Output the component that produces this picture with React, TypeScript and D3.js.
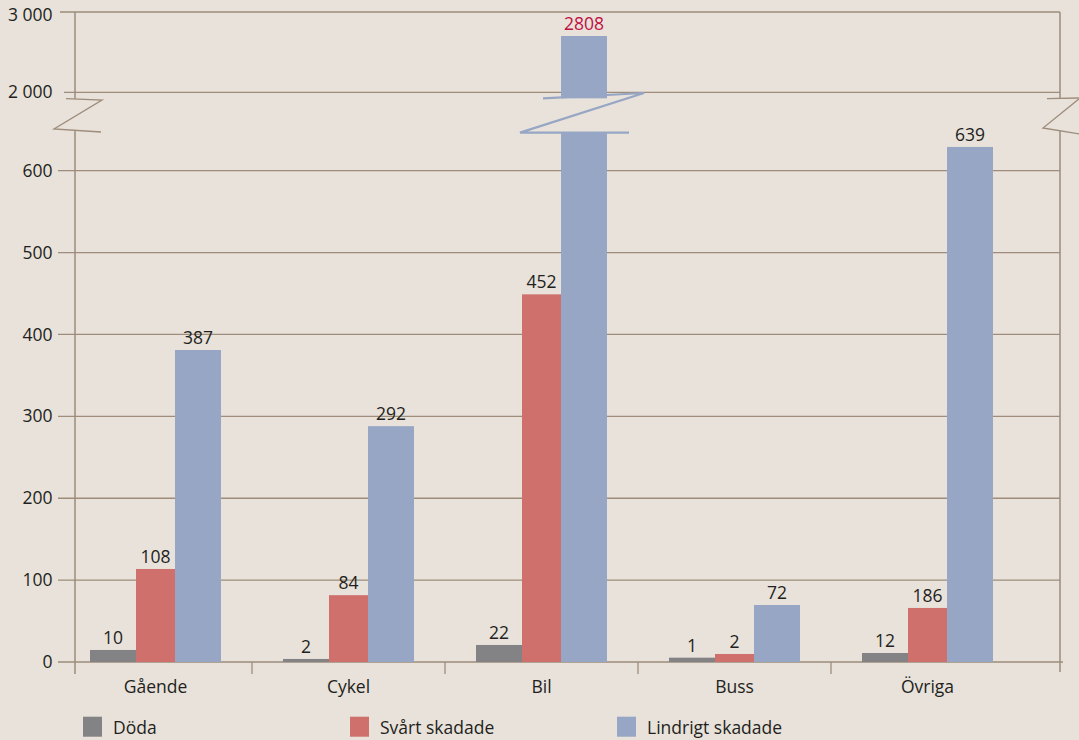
import React from 'react';
import * as d3 from 'd3';

const categories = ['Gående', 'Cykel', 'Bil', 'Buss', 'Övriga'];
const seriesNames = ['Döda', 'Svårt skadade', 'Lindrigt skadade'];
// printed values (data labels)
const dodaLabels = [10, 2, 22, 1, 12];
const svartLabels = [108, 84, 452, 2, 186];
const lindrigtLabels = [387, 292, 2808, 72, 639];
// bar heights as drawn in the picture
const dodaBars = [14.7, 3.7, 20.8, 5.3, 11];
const svartBars = [113.6, 81.6, 449, 9.8, 66];
const lindrigtBars = [381, 288, 2701, 69.6, 629];
const lowerTicks = [0, 100, 200, 300, 400, 500, 600];
const upperTicks = [2000, 3000];
const breakLow = 647;
const breakHigh = 1925;

const colors = ['#838385', '#D0706C', '#96A6C4'];
const highlightColor = '#C0103F';
const gridColor = '#9E8D7B';
const bg = '#E8E2DB';
const textColor = '#231F20';
const font = '"Open Sans", "Noto Sans", sans-serif';
const fontSize = 17.5;
const fontWeight = 500;

const W = 1079;
const H = 740;

const fmt = d3.formatLocale({ decimal: ',', thousands: ' ', grouping: [3], currency: ['', ''] }).format(',');

export default function App() {
  const yLow = d3.scaleLinear().domain([0, 600]).range([662, 170.7]);
  const yHigh = d3.scaleLinear().domain([2000, 3000]).range([92.3, 12]);
  const step = 193;
  const x = d3
    .scaleBand<string>()
    .domain(categories)
    .range([59, 59 + 5 * step])
    .paddingInner(62 / step)
    .paddingOuter(31 / step);
  const offsets = [0, 46, 85];
  const widths = [46, 39, 46];
  const barSets = [dodaBars, svartBars, lindrigtBars];
  const labelSets = [dodaLabels, svartLabels, lindrigtLabels];

  const axisL = 75;
  const axisR = 1060;
  const y0 = yLow(0);
  const gridLeft = 58;

  const valueY = (v: number) => (v > breakLow ? yHigh(v) : yLow(v));

  const bars: React.ReactNode[] = [];
  const labels: React.ReactNode[] = [];
  const breaks: React.ReactNode[] = [];

  categories.forEach((c, i) => {
    const gx = x(c)!;
    barSets.forEach((set, s) => {
      const v = set[i];
      const bx = gx + offsets[s];
      const bw = widths[s];
      const top = valueY(v);
      if (v > breakLow) {
        const lowTop = yLow(breakLow);
        const highBottom = yHigh(breakHigh);
        bars.push(<rect key={`b${i}-${s}-l`} x={bx} y={lowTop} width={bw} height={y0 - lowTop} fill={colors[s]} />);
        bars.push(<rect key={`b${i}-${s}-h`} x={bx} y={top} width={bw} height={highBottom - top} fill={colors[s]} />);
        const yTopLine = yHigh(2000) + 0.7;
        breaks.push(
          <polyline
            key={`br${i}-${s}`}
            points={`${bx - 18},${highBottom} ${bx + bw + 37},${yTopLine} ${bx - 41},${lowTop + 0.4} ${bx + bw + 22},${lowTop + 0.4}`}
            fill="none"
            stroke={colors[s]}
            strokeWidth={2.2}
          />
        );
      } else {
        bars.push(<rect key={`b${i}-${s}`} x={bx} y={top} width={bw} height={y0 - top} fill={colors[s]} />);
      }
      const lab = labelSets[s][i];
      labels.push(
        <text
          key={`t${i}-${s}`}
          x={bx + bw / 2}
          y={top - 6}
          textAnchor="middle"
          fontSize={fontSize}
          fontWeight={fontWeight}
          fontFamily={font}
          fill={lab > 1000 ? highlightColor : textColor}
        >
          {lab}
        </text>
      );
    });
  });

  const separators = categories.slice(1).map((c) => x(c)! - (x.step() - x.bandwidth()) / 2);
  const breakTop = 98.7;
  const breakBottom = 131;

  return (
    <svg width={W} height={H} style={{ position: 'absolute', left: 0, top: 0, display: 'block' }}>
      <rect x={0} y={0} width={W} height={H} fill={bg} />
      {lowerTicks.map((t) => (
        <line key={`gl${t}`} x1={gridLeft} x2={t === 0 ? axisR + 3 : axisR} y1={yLow(t)} y2={yLow(t)} stroke={gridColor} strokeWidth={1.3} />
      ))}
      {upperTicks.map((t, k) => (
        <line key={`gu${t}`} x1={k === 0 ? 64 : 60} x2={axisR} y1={yHigh(t)} y2={yHigh(t)} stroke={gridColor} strokeWidth={1.3} />
      ))}
      <line x1={axisL} x2={axisL} y1={yHigh(3000)} y2={breakTop} stroke={gridColor} strokeWidth={1.5} />
      <line x1={axisL} x2={axisL} y1={breakBottom} y2={674} stroke={gridColor} strokeWidth={1.5} />
      <line x1={axisR} x2={axisR} y1={yHigh(3000)} y2={breakTop} stroke={gridColor} strokeWidth={1.5} />
      <line x1={axisR} x2={axisR} y1={breakBottom} y2={672} stroke={gridColor} strokeWidth={1.5} />
      {separators.map((sx, k) => (
        <line key={`sep${k}`} x1={sx} x2={sx} y1={y0} y2={674} stroke={gridColor} strokeWidth={1.3} />
      ))}
      <polyline points={`66,98.7 102,100 54,129 101,132`} fill="none" stroke={gridColor} strokeWidth={1.3} />
      <polyline points={`1047,98.7 1080,98 1043,128 1080,134`} fill="none" stroke={gridColor} strokeWidth={1.3} />
      {bars}
      {breaks}
      {labels}
      {lowerTicks.map((t) => (
        <text key={`yl${t}`} x={52.5} y={yLow(t)} dy="0.35em" textAnchor="end" fontSize={fontSize} fontWeight={fontWeight} fontFamily={font} fill={textColor}>
          {fmt(t)}
        </text>
      ))}
      {upperTicks.map((t) => (
        <text key={`yu${t}`} x={52.5} y={Math.max(yHigh(t), 14.7)} dy="0.35em" textAnchor="end" fontSize={fontSize} fontWeight={fontWeight} fontFamily={font} fill={textColor}>
          {fmt(t)}
        </text>
      ))}
      {categories.map((c) => (
        <text key={`c${c}`} x={x(c)! + x.bandwidth() / 2} y={692.5} textAnchor="middle" fontSize={fontSize} fontWeight={fontWeight} fontFamily={font} fill={textColor}>
          {c}
        </text>
      ))}
      {seriesNames.map((n, s) => {
        const lx = 83 + s * 267;
        return (
          <g key={`lg${s}`}>
            <rect x={lx} y={716.7} width={19} height={20} fill={colors[s]} />
            <text x={lx + 30} y={734} fontSize={fontSize} fontWeight={fontWeight} fontFamily={font} fill={textColor}>
              {n}
            </text>
          </g>
        );
      })}
    </svg>
  );
}
